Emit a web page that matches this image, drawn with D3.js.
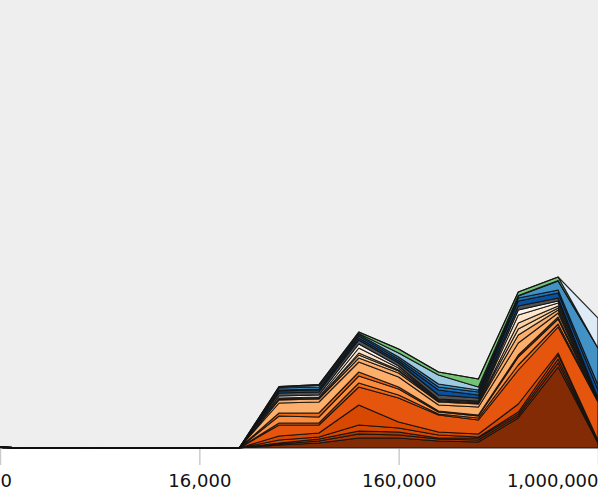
<!DOCTYPE html>
<html>
<head>
<meta charset="utf-8">
<script src="https://cdn.jsdelivr.net/npm/d3@7"></script>
<style>
  body { margin: 0; background: #fff; }
  #chart text { font-family: "DejaVu Sans", sans-serif; }
</style>
</head>
<body>
<div id="chart"></div>
<script>
const chart_width = 598;
const chart_height = 491;
const plot_bottom = 448;

// bins on the x axis (only some of them get a label)
const bin_index = [0, 1, 2, 3, 4, 5, 6, 7, 8, 9, 10, 11, 12, 13, 14, 15];
const tick_index = [0, 5, 10, 15];
const tick_labels = ['0', '16,000', '160,000', '1,000,000'];

// stacked series, bottom to top
const series_names = ['s01', 's02', 's03', 's04', 's05', 's06', 's07', 's08', 's09', 's10',
                      's11', 's12', 's13', 's14', 's15', 's16', 's17', 's18', 's19', 's20',
                      's21', 's22'];
const series_colors = ['#832b04', '#a63603', '#a63603', '#d94801', '#d94801', '#e6550d', '#f16913',
                       '#fd8d3c', '#f16913', '#fdae6b', '#fdae6b', '#fdd0a2', '#fdd0a2', '#fee6ce',
                       '#fff5eb', '#525252', '#08519c', '#2171b5', '#4292c6', '#9ecae1', '#74c476',
                       '#deebf7'];

const s01 = [0.6, 0, 0, 0, 0, 0, 0, 3, 5, 10, 10, 7, 6, 30, 81, 5];
const s02 = [0, 0, 0, 0, 0, 0, 0, 1, 2, 4, 3, 2, 2, 2, 4, 0.5];
const s03 = [0, 0, 0, 0, 0, 0, 0, 1, 2, 3, 3, 1, 2, 2, 4, 0.5];
const s04 = [0, 0, 0, 0, 0, 0, 0, 3, 2, 6, 4, 3, 1, 2, 4, 1];
const s05 = [0, 0, 0, 0, 0, 0, 0, 4, 4, 20, 6, 3, 3, 8, 2, 1];
const s06 = [0, 0, 0, 0.4, 0.4, 0.4, 0, 11, 8, 18, 24, 17, 14, 34, 26, 38];
const s07 = [0, 0, 0, 0, 0, 0, 0, 2, 2, 4, 3, 1, 2, 5, 3, 0.5];
const s08 = [0, 0, 0, 0, 0, 0, 0, 7, 6, 7, 6, 2, 2, 8, 5, 0.5];
const s09 = [0, 0, 0, 0, 0, 0, 0, 3, 4, 4, 2, 1, 1, 2, 2, 1];
const s10 = [0, 0, 0, 0, 0, 0, 0, 10, 11, 10, 10, 6, 8, 12, 4, 0.3];
const s11 = [0, 0, 0, 0, 0, 0, 0, 3, 3, 4, 4, 3, 3, 8, 3, 0.2];
const s12 = [0, 0, 0, 0, 0, 0, 0, 1, 1, 3, 2, 1, 1, 6, 2, 0.2];
const s13 = [0, 0, 0, 0, 0, 0, 0, 0, 0, 2, 1, 0, 0, 6, 2, 0.1];
const s14 = [0, 0, 0, 0, 0, 0, 0, 1, 1, 5, 2, 1, 1, 8, 3, 0.2];
const s15 = [0, 0, 0, 0, 0, 0, 0, 2, 2, 4, 2, 1, 1, 5, 2, 0];
const s16 = [0, 0, 0, 0, 0, 0, 0, 3, 3, 4, 3, 4, 3, 4, 3, 1];
const s17 = [0, 0, 0, 0, 0, 0, 0, 2, 2, 2, 2, 5, 3, 5, 5, 8];
const s18 = [0, 0, 0, 0, 0, 0, 0, 1, 1, 2, 2, 3, 3, 3, 3, 5];
const s19 = [0, 0, 0, 0, 0, 0, 0, 2, 2, 1.5, 2, 3, 2, 2, 9, 37];
const s20 = [0, 0, 0, 0, 0, 0, 0, 1, 1.5, 1, 4, 9, 3, 0.5, 0.5, 0];
const s21 = [0, 0, 0, 0, 0, 0, 0, 0.5, 1, 1.5, 4, 3, 8, 3.5, 3.5, 0];
const s22 = [0, 0, 0, 0, 0, 0, 0, 0, 0, 0, 0, 0, 0, 0, 0, 30];

const series_values = [s01, s02, s03, s04, s05, s06, s07, s08, s09, s10, s11,
                       s12, s13, s14, s15, s16, s17, s18, s19, s20, s21, s22];

function draw_chart(){
    // one row per bin for d3.stack
    var rows = [];
    for(var i = 0; i < bin_index.length; i++){
        var row = {bin: bin_index[i]};
        for(var k = 0; k < series_names.length; k++){
            row[series_names[k]] = series_values[k][i];
        }
        rows.push(row);
    }

    var stacked = d3.stack().keys(series_names)(rows);

    var svg = d3.select('#chart')
                .append('svg')
                .attr('width', chart_width)
                .attr('height', chart_height);

    svg.append('rect')
        .attr('x', 0)
        .attr('y', 0)
        .attr('width', chart_width)
        .attr('height', plot_bottom)
        .attr('fill', '#eeeeee');

    var xScale = d3.scalePoint()
                    .domain(bin_index)
                    .range([0, chart_width]);
    var yScale = d3.scaleLinear()
                    .domain([0, plot_bottom])
                    .range([plot_bottom, 0]);

    var area = d3.area()
                 .x(function(d){ return xScale(d.data.bin); })
                 .y0(function(d){ return yScale(d[0]); })
                 .y1(function(d){ return yScale(d[1]); });

    svg.append('g')
        .selectAll('.layer')
        .data(stacked)
        .enter()
        .append('path')
        .attr('class', 'layer')
        .attr('d', area)
        .attr('fill', function(d, i){ return series_colors[i]; })
        .attr('stroke', '#111')
        .attr('stroke-width', 1.1)
        .attr('stroke-opacity', 0.9)
        .attr('stroke-linejoin', 'round');

    var xAxis = d3.axisBottom(xScale)
                  .tickValues(tick_index)
                  .tickFormat(function(d){ return tick_labels[tick_index.indexOf(d)]; })
                  .tickSize(16)
                  .tickPadding(9);

    var ax = svg.append('g')
                .attr('transform', 'translate(0,' + (plot_bottom + 1) + ')')
                .call(xAxis);
    ax.select('.domain').remove();
    ax.selectAll('.tick line').attr('stroke', '#cccccc').attr('stroke-width', 1.5);
    ax.selectAll('.tick text')
        .attr('fill', '#111')
        .style('font-size', '18px')
        .attr('text-anchor', function(d, i){
            if(i == 0) return 'start';
            if(i == tick_index.length - 1) return 'end';
            return 'middle';
        });
}

draw_chart();
</script>
</body>
</html>
